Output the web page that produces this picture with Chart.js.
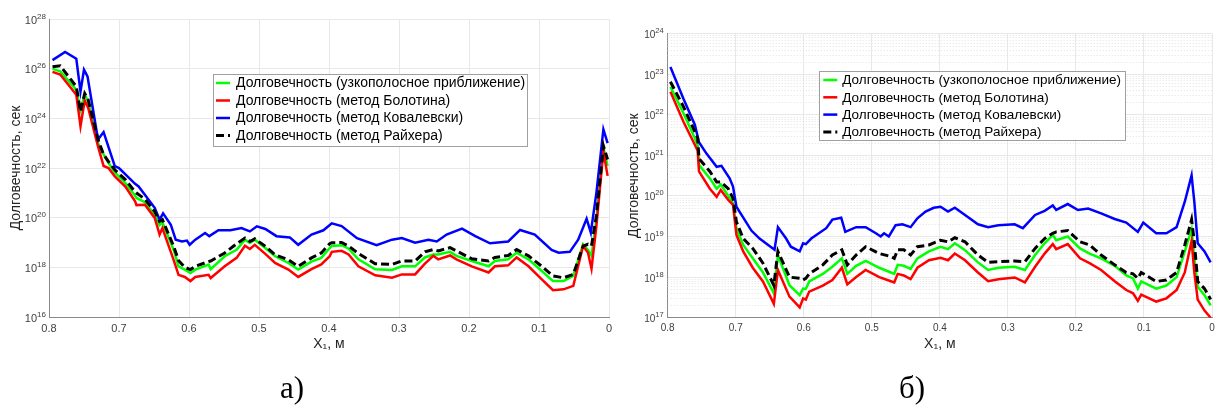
<!DOCTYPE html>
<html>
<head>
<meta charset="utf-8">
<script src="https://cdn.jsdelivr.net/npm/chart.js@4/dist/chart.umd.min.js"></script>
<style>
  html, body { margin: 0; padding: 0; background: #fff; }
  #wrap { position: relative; width: 1221px; height: 414px; overflow: hidden; }
  canvas { position: absolute; top: 0; }
  .cap { position: absolute; font-family: "Liberation Serif", "Times New Roman", serif; font-size: 31px; line-height: 1; color: #000; }
</style>
</head>
<body>
<div id="wrap">
  <canvas id="panelA" width="612" height="414" style="left:0px"></canvas>
  <canvas id="panelB" width="609" height="414" style="left:612px"></canvas>
  <div class="cap" style="left:280px; top:372px;">а)</div>
  <div class="cap" style="left:899px; top:372px;">б)</div>
</div>
<script>
// ---- shared labels and ticks ----
const seriesLabels = [
  'Долговечность (узкополосное приближение)',
  'Долговечность (метод Болотина)',
  'Долговечность (метод Ковалевски)',
  'Долговечность (метод Райхера)'
];
const xTitle = 'X₁, м';
const yTitle = 'Долговечность, сек';
const xTicks = [0, 0.1, 0.2, 0.3, 0.4, 0.5, 0.6, 0.7, 0.8];
const yTicksA = [1e16, 1e18, 1e20, 1e22, 1e24, 1e26, 1e28];
const yTicksB = [1e17, 1e18, 1e19, 1e20, 1e21, 1e22, 1e23, 1e24];

// ---- panel а): coordinate X1 (m) and durability (s) ----
const xA = [0.795, 0.784, 0.761, 0.755, 0.749, 0.744, 0.730, 0.722, 0.715, 0.706, 0.691, 0.677, 0.675, 0.663, 0.649, 0.642, 0.638, 0.622, 0.615, 0.606, 0.598, 0.591, 0.572, 0.569, 0.549, 0.532, 0.520, 0.513, 0.506, 0.491, 0.477, 0.458, 0.444, 0.425, 0.411, 0.399, 0.396, 0.382, 0.372, 0.358, 0.334, 0.310, 0.296, 0.277, 0.263, 0.251, 0.244, 0.227, 0.218, 0.196, 0.172, 0.163, 0.144, 0.132, 0.115, 0.096, 0.080, 0.065, 0.051, 0.037, 0.030, 0.025, 0.018, 0.008, 0.002];
const narrowA = [9.8e25, 7.8e25, 1.4e25, 2.2e24, 8.9e24, 4.8e24, 1.0e23, 3.5e22, 1.6e22, 6.6e21, 2.5e21, 7.6e20, 6.2e20, 4.2e20, 1.3e20, 5.0e19, 6.5e19, 5.1e18, 1.1e18, 8.1e17, 5.9e17, 8.1e17, 1.3e18, 8.5e17, 2.8e18, 5.1e18, 1.3e19, 9.5e18, 1.3e19, 6.0e18, 2.8e18, 1.5e18, 8.1e17, 1.7e18, 2.4e18, 6.0e18, 7.2e18, 7.8e18, 5.6e18, 2.1e18, 8.3e17, 7.8e17, 1.1e18, 1.1e18, 2.5e18, 3.3e18, 3.3e18, 4.2e18, 2.9e18, 1.8e18, 1.1e18, 1.8e18, 2.1e18, 3.9e18, 2.1e18, 7.1e17, 2.8e17, 2.8e17, 4.5e17, 8.5e18, 5.0e18, 2.9e18, 8.5e19, 6.6e22, 1.2e22];
const bolotinA = [7.4e25, 5.8e25, 8.9e24, 4.8e23, 5.2e24, 2.6e24, 7.4e22, 1.2e22, 1.0e22, 4.6e21, 1.8e21, 4.6e20, 3.2e20, 3.3e20, 9.8e19, 2.1e19, 3.8e19, 2.0e18, 5.0e17, 4.1e17, 2.8e17, 4.1e17, 5.0e17, 3.7e17, 1.1e18, 2.4e18, 7.4e18, 5.5e18, 8.1e18, 3.5e18, 1.5e18, 8.1e17, 4.1e17, 8.5e17, 1.3e18, 2.8e18, 4.2e18, 4.6e18, 3.3e18, 1.1e18, 4.8e17, 3.8e17, 5.2e17, 5.2e17, 1.4e18, 2.9e18, 2.1e18, 3.0e18, 2.1e18, 1.1e18, 6.2e17, 1.1e18, 1.2e18, 2.5e18, 1.1e18, 3.3e17, 1.2e17, 1.3e17, 1.8e17, 7.2e18, 3.9e18, 8.9e17, 4.6e19, 4.8e22, 4.8e21];
const raikherA = [1.2e26, 1.3e26, 1.9e25, 1.9e24, 1.0e25, 5.6e24, 1.4e23, 3.5e22, 1.8e22, 8.5e21, 3.4e21, 1.1e21, 9.8e20, 5.6e20, 1.8e20, 7.1e19, 8.3e19, 7.1e18, 1.9e18, 1.0e18, 8.1e17, 1.1e18, 1.7e18, 1.8e18, 3.8e18, 8.9e18, 1.5e19, 1.1e19, 1.4e19, 7.1e18, 3.2e18, 2.0e18, 1.1e18, 2.4e18, 3.8e18, 8.9e18, 9.8e18, 1.0e19, 7.2e18, 3.6e18, 1.4e18, 1.3e18, 1.8e18, 1.8e18, 4.2e18, 5.2e18, 4.6e18, 6.2e18, 4.6e18, 2.2e18, 1.8e18, 2.5e18, 3.0e18, 5.2e18, 2.9e18, 1.1e18, 4.5e17, 3.8e17, 5.2e17, 7.2e18, 8.5e18, 7.2e18, 1.2e20, 7.8e22, 2.2e22];
const xKovA = [0.795, 0.777, 0.761, 0.755, 0.750, 0.745, 0.730, 0.722, 0.706, 0.700, 0.677, 0.672, 0.649, 0.642, 0.637, 0.626, 0.619, 0.610, 0.603, 0.599, 0.591, 0.577, 0.571, 0.558, 0.541, 0.525, 0.513, 0.503, 0.491, 0.475, 0.456, 0.444, 0.425, 0.408, 0.396, 0.382, 0.360, 0.332, 0.310, 0.296, 0.277, 0.258, 0.246, 0.232, 0.210, 0.191, 0.170, 0.144, 0.127, 0.106, 0.082, 0.072, 0.056, 0.044, 0.032, 0.026, 0.018, 0.008, 0.002];
const kovA = [2.2e26, 4.7e26, 2.5e26, 1.2e25, 9.1e25, 4.9e25, 1.4e23, 2.8e23, 1.2e22, 1.0e22, 2.3e21, 1.8e21, 2.5e20, 8.3e19, 1.5e20, 5.2e19, 1.3e19, 1.1e19, 1.2e19, 8.1e18, 1.3e19, 2.4e19, 1.8e19, 3.1e19, 3.1e19, 3.8e19, 2.8e19, 4.5e19, 3.5e19, 1.8e19, 1.6e19, 8.1e18, 2.1e19, 3.1e19, 5.9e19, 4.6e19, 1.5e19, 7.8e18, 1.3e19, 1.5e19, 9.8e18, 1.3e19, 1.1e19, 2.1e19, 3.6e19, 1.8e19, 9.3e18, 1.1e19, 3.2e19, 2.1e19, 5.0e18, 3.9e18, 4.2e18, 1.3e19, 9.1e19, 2.5e19, 1.0e21, 3.6e23, 1.0e23];

// ---- panel б) ----
const xB = [0.796, 0.777, 0.760, 0.756, 0.754, 0.738, 0.728, 0.722, 0.711, 0.704, 0.699, 0.689, 0.675, 0.660, 0.644, 0.638, 0.621, 0.606, 0.601, 0.597, 0.592, 0.572, 0.558, 0.544, 0.536, 0.523, 0.509, 0.489, 0.472, 0.467, 0.462, 0.453, 0.443, 0.433, 0.416, 0.399, 0.388, 0.378, 0.363, 0.344, 0.329, 0.314, 0.290, 0.275, 0.260, 0.246, 0.234, 0.229, 0.212, 0.194, 0.180, 0.163, 0.143, 0.126, 0.116, 0.109, 0.104, 0.082, 0.067, 0.052, 0.040, 0.030, 0.026, 0.021, 0.011, 0.002];
const narrowB = [4.9e22, 1.1e22, 2.6e21, 1.8e21, 5.8e20, 2.7e20, 1.5e20, 1.9e20, 1.0e20, 6.6e19, 1.6e19, 6.2e18, 2.9e18, 1.3e18, 4.0e17, 3.5e18, 6.3e17, 3.6e17, 5.2e17, 5.1e17, 7.8e17, 1.2e18, 1.8e18, 2.9e18, 1.2e18, 1.9e18, 2.5e18, 1.7e18, 1.3e18, 1.2e18, 2.0e18, 1.9e18, 1.6e18, 2.9e18, 4.3e18, 5.6e18, 4.9e18, 6.8e18, 4.6e18, 2.3e18, 1.5e18, 1.7e18, 1.8e18, 1.5e18, 3.5e18, 6.8e18, 1.1e19, 8.1e18, 1.0e19, 5.1e18, 3.8e18, 2.9e18, 1.9e18, 1.1e18, 9.3e17, 5.2e17, 7.8e17, 5.2e17, 6.2e17, 1.0e18, 4.3e18, 1.5e19, 2.9e18, 5.8e17, 3.6e17, 2.0e17];
const bolotinB = [3.7e22, 6.8e21, 1.8e21, 1.3e21, 4.0e20, 1.5e20, 9.5e19, 1.4e20, 7.9e19, 6.0e19, 1.1e19, 4.3e18, 1.7e18, 7.8e17, 2.2e17, 1.5e18, 3.3e17, 1.8e17, 3.0e17, 2.8e17, 4.4e17, 6.2e17, 8.5e17, 1.7e18, 6.6e17, 1.0e18, 1.5e18, 1.0e18, 7.9e17, 7.4e17, 1.2e18, 1.1e18, 8.9e17, 1.7e18, 2.6e18, 3.0e18, 2.6e18, 3.8e18, 2.6e18, 1.3e18, 7.9e17, 8.9e17, 9.8e17, 7.4e17, 1.8e18, 3.8e18, 6.5e18, 4.9e18, 6.5e18, 2.9e18, 2.2e18, 1.5e18, 7.9e17, 4.8e17, 4.0e17, 2.6e17, 3.7e17, 2.5e17, 3.0e17, 4.8e17, 1.3e18, 7.8e18, 1.3e18, 2.8e17, 1.5e17, 1.0e17];
const raikherB = [6.5e22, 1.6e22, 3.8e21, 2.7e21, 8.3e20, 4.0e20, 2.2e20, 2.2e20, 1.5e20, 8.7e19, 2.3e19, 8.9e18, 5.1e18, 2.2e18, 6.3e17, 4.3e18, 1.0e18, 9.3e17, 8.5e17, 9.3e17, 1.2e18, 2.0e18, 3.5e18, 4.7e18, 2.0e18, 3.5e18, 5.6e18, 3.8e18, 3.2e18, 2.9e18, 4.7e18, 4.7e18, 3.5e18, 5.6e18, 6.2e18, 8.1e18, 7.4e18, 9.3e18, 7.4e18, 3.5e18, 2.3e18, 2.4e18, 2.5e18, 2.4e18, 5.1e18, 8.9e18, 1.2e19, 1.3e19, 1.4e19, 7.4e18, 6.2e18, 3.5e18, 2.0e18, 1.3e18, 1.2e18, 9.3e17, 1.3e18, 7.8e17, 8.5e17, 1.3e18, 6.2e18, 2.6e19, 7.4e18, 7.8e17, 5.2e17, 2.8e17];
const xKovB = [0.796, 0.777, 0.760, 0.754, 0.743, 0.728, 0.721, 0.709, 0.704, 0.699, 0.677, 0.665, 0.643, 0.638, 0.626, 0.619, 0.606, 0.601, 0.597, 0.589, 0.567, 0.558, 0.545, 0.539, 0.523, 0.509, 0.494, 0.487, 0.482, 0.475, 0.465, 0.455, 0.443, 0.433, 0.421, 0.409, 0.399, 0.388, 0.378, 0.363, 0.344, 0.329, 0.314, 0.290, 0.278, 0.260, 0.246, 0.234, 0.229, 0.212, 0.197, 0.182, 0.163, 0.143, 0.126, 0.109, 0.101, 0.082, 0.067, 0.052, 0.040, 0.030, 0.026, 0.021, 0.011, 0.002];
const kovB = [1.5e23, 2.5e22, 5.6e21, 2.1e21, 1.1e21, 5.2e20, 5.5e20, 2.7e20, 1.7e20, 5.4e19, 1.4e19, 8.9e18, 4.7e18, 1.7e19, 8.9e18, 5.6e18, 4.3e18, 6.8e18, 6.5e18, 8.9e18, 1.6e19, 2.6e19, 2.9e19, 1.3e19, 1.7e19, 1.7e19, 1.2e19, 1.0e19, 1.2e19, 1.0e19, 1.9e19, 2.0e19, 1.7e19, 2.8e19, 4.1e19, 5.1e19, 5.4e19, 4.1e19, 5.1e19, 3.4e19, 2.0e19, 1.7e19, 1.9e19, 2.0e19, 1.6e19, 3.4e19, 4.3e19, 5.8e19, 4.5e19, 6.3e19, 4.5e19, 4.9e19, 3.7e19, 2.7e19, 2.2e19, 1.3e19, 2.2e19, 1.2e19, 1.2e19, 1.7e19, 7.2e19, 3.2e20, 7.2e19, 6.8e18, 4.3e18, 2.3e18];

Chart.defaults.font.family = '"Liberation Sans", Arial, Helvetica, sans-serif';
Chart.defaults.color = '#404040';

// Dotted minor grid between decades on a log axis
const minorGrid = {
  id: 'minorGrid',
  beforeDatasetsDraw(chart, args, o) {
    const y = chart.scales.y, a = chart.chartArea, ctx = chart.ctx;
    const e0 = Math.round(Math.log10(y.min)), e1 = Math.round(Math.log10(y.max));
    ctx.save();
    ctx.strokeStyle = o.color;
    ctx.lineWidth = 1;
    ctx.setLineDash(o.dash);
    for (let e = e0; e < e1; e++) {
      for (let m = 2; m <= 9; m++) {
        const py = Math.round(y.getPixelForValue(m * Math.pow(10, e))) + 0.5;
        ctx.beginPath();
        ctx.moveTo(a.left, py);
        ctx.lineTo(a.right, py);
        ctx.stroke();
      }
    }
    ctx.restore();
  }
};

// "10" with a raised exponent for every decade tick of the y axis
const powerLabels = {
  id: 'powerLabels',
  afterDraw(chart, args, o) {
    const s = chart.scales.y, ctx = chart.ctx;
    ctx.save();
    ctx.fillStyle = o.color;
    ctx.textAlign = 'left';
    ctx.textBaseline = 'alphabetic';
    s.ticks.forEach(t => {
      const exp = Math.round(Math.log10(t.value));
      const y = s.getPixelForValue(t.value);
      ctx.font = o.expFont;
      const ew = ctx.measureText(String(exp)).width;
      ctx.font = o.baseFont;
      const bw = ctx.measureText('10').width;
      const x0 = chart.chartArea.left - o.gap - ew - bw;
      ctx.fillText('10', x0, y + o.baseShift);
      ctx.font = o.expFont;
      ctx.fillText(String(exp), x0 + bw, y + o.expShift);
    });
    ctx.restore();
  }
};

// Framed legend placed inside the plot
const boxLegend = {
  id: 'boxLegend',
  afterDatasetsDraw(chart, args, o) {
    const ctx = chart.ctx;
    ctx.save();
    ctx.fillStyle = '#ffffff';
    ctx.fillRect(o.x, o.y, o.w, o.h);
    ctx.strokeStyle = '#a0a0a0';
    ctx.lineWidth = 1;
    ctx.strokeRect(Math.round(o.x) + 0.5, Math.round(o.y) + 0.5, Math.round(o.w), Math.round(o.h));
    ctx.font = o.font;
    ctx.textBaseline = 'middle';
    ctx.textAlign = 'left';
    chart.data.datasets.forEach((ds, i) => {
      const cy = o.y + o.first + i * o.step;
      ctx.strokeStyle = ds.borderColor;
      ctx.lineWidth = ds.borderWidth;
      ctx.setLineDash(ds.borderDash || []);
      ctx.beginPath();
      ctx.moveTo(o.x + o.s0, cy);
      ctx.lineTo(o.x + o.s1, cy);
      ctx.stroke();
      ctx.setLineDash([]);
      ctx.fillStyle = '#000000';
      ctx.fillText(ds.label, o.x + o.tx, cy + 0.5);
    });
    ctx.restore();
  }
};

function series(label, xs, ys, color, width, dash, order) {
  return {
    label,
    data: xs.map((x, i) => ({ x, y: ys[i] })),
    borderColor: color,
    backgroundColor: color,
    borderWidth: width,
    borderDash: dash,
    pointRadius: 0,
    tension: 0,
    fill: false,
    order
  };
}

function panel(id, c) {
  return new Chart(document.getElementById(id), {
    type: 'line',
    data: {
      datasets: [
        series(seriesLabels[0], c.x, c.narrow, '#00ff00', 2.5, [], 3),
        series(seriesLabels[1], c.x, c.bolotin, '#ff0000', 2.5, [], 2),
        series(seriesLabels[2], c.xKov, c.kov, '#0000ff', 2.5, [], 1),
        series(seriesLabels[3], c.x, c.raikher, '#000000', 3, [8, 4], 0)
      ]
    },
    options: {
      responsive: false,
      animation: false,
      devicePixelRatio: 1,
      events: [],
      layout: { padding: { left: 0, top: c.top, right: c.right, bottom: 0 } },
      plugins: {
        legend: { display: false },
        tooltip: { enabled: false },
        boxLegend: c.legend,
        powerLabels: c.power,
        minorGrid: c.minor
      },
      scales: {
        x: {
          type: 'linear',
          min: 0,
          max: 0.8,
          reverse: true,
          afterBuildTicks: s => { s.ticks = xTicks.map(v => ({ value: v })); },
          afterFit: s => { s.height = c.xHeight; },
          grid: { color: '#e8e8e8', drawTicks: false },
          border: { color: '#8a8a8a' },
          ticks: { font: { size: c.tickSize }, padding: 5, color: '#404040', maxRotation: 0, autoSkip: false },
          title: { display: true, text: xTitle, font: { size: 14 }, color: '#262626', padding: { top: 0, bottom: c.xTitlePad } }
        },
        y: {
          type: 'logarithmic',
          min: c.yMin,
          max: c.yMax,
          afterBuildTicks: s => { s.ticks = c.yTicks.map(v => ({ value: v })); },
          afterFit: s => { s.width = c.yWidth; },
          grid: { color: '#e8e8e8', drawTicks: false },
          border: { color: '#8a8a8a' },
          ticks: { display: false, autoSkip: false },
          title: { display: true, text: yTitle, font: { size: 14 }, color: '#262626', padding: { top: c.yTitlePad, bottom: 0 } }
        }
      }
    },
    plugins: [minorGrid, powerLabels, boxLegend]
  });
}

panel('panelA', {
  x: xA, narrow: narrowA, bolotin: bolotinA, raikher: raikherA, xKov: xKovA, kov: kovA,
  yMin: 1e16, yMax: 1e28, yTicks: yTicksA,
  top: 19, right: 3, xHeight: 97, yWidth: 49, tickSize: 11,
  xTitlePad: 61.6, yTitlePad: 7.6,
  legend: { x: 213, y: 74, w: 314, h: 72, first: 9, step: 17.5, s0: 3, s1: 17, tx: 23, font: '14px "Liberation Sans", Arial, sans-serif' },
  power: { color: '#404040', baseFont: '11px "Liberation Sans", Arial, sans-serif', expFont: '8px "Liberation Sans", Arial, sans-serif', gap: 3, baseShift: 4.5, expShift: -0.5 },
  minor: false
});

panel('panelB', {
  x: xB, narrow: narrowB, bolotin: bolotinB, raikher: raikherB, xKov: xKovB, kov: kovB,
  yMin: 1e17, yMax: 1e24, yTicks: yTicksB,
  top: 33.5, right: 9, xHeight: 96.3, yWidth: 55.7, tickSize: 10,
  xTitlePad: 61.6, yTitlePad: 13.6,
  legend: { x: 207.3, y: 70.7, w: 306, h: 68.6, first: 9.3, step: 17.3, s0: 4, s1: 18, tx: 23, font: '13.5px "Liberation Sans", Arial, sans-serif' },
  power: { color: '#404040', baseFont: '10px "Liberation Sans", Arial, sans-serif', expFont: '7.5px "Liberation Sans", Arial, sans-serif', gap: 4, baseShift: 4.4, expShift: -0.6 },
  minor: { color: '#e2e2e2', dash: [1, 2] }
});
</script>
</body>
</html>
